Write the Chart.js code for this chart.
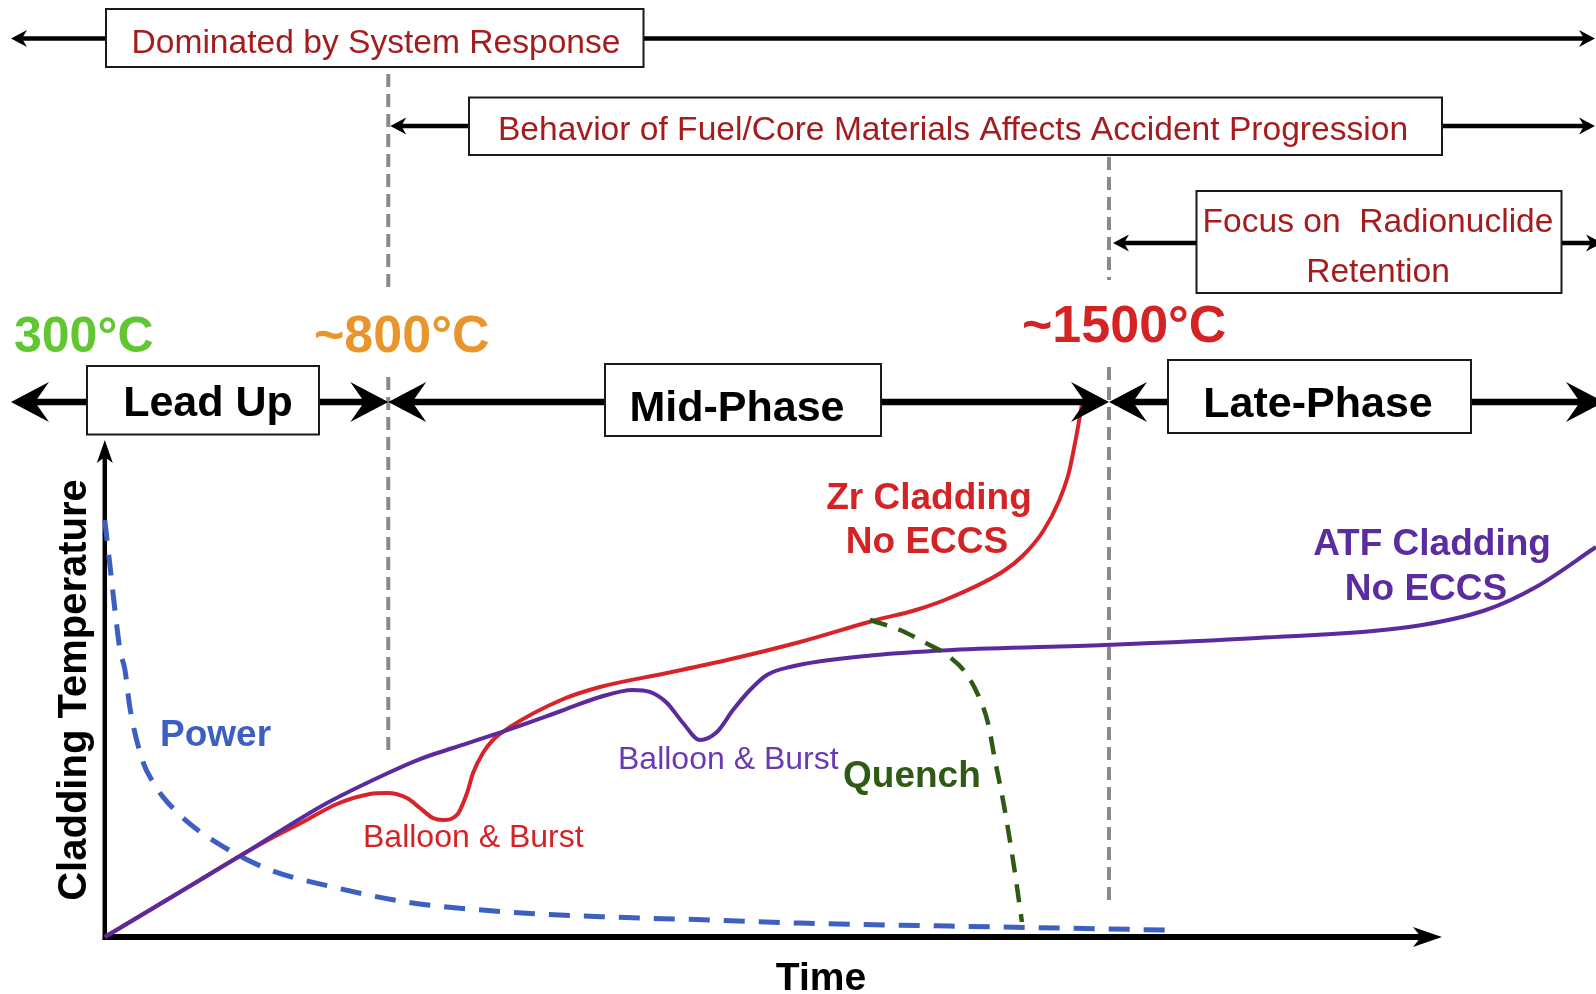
<!DOCTYPE html>
<html><head><meta charset="utf-8">
<script src="https://cdn.jsdelivr.net/npm/chart.js@4.4.1/dist/chart.umd.min.js"></script>
<style>html,body{margin:0;padding:0;background:#fff;overflow:hidden}canvas{display:block}</style>
</head><body>
<canvas id="c" width="1596" height="994"></canvas>
<script>
// ---- data (time units: 0..100 along the time axis; temperature units: 0..100 along the vertical axis)
const zrTime  = [0, 5.25, 10.48, 12.35, 14.82, 17.36, 19.83, 21.10, 22.60, 23.57, 24.54, 25.29, 26.34, 27.09, 27.54, 28.28, 29.03, 30.30, 34.12, 37.03, 42.04, 46.53, 51.99, 57.67, 60.66, 63.36, 67.17, 68.67, 70.16, 71.36, 72.11, 72.63, 73.08];
const zrTemp  = [0, 8.45, 16.90, 19.72, 23.14, 26.76, 28.77, 28.97, 27.97, 25.96, 23.94, 23.54, 24.55, 28.97, 33.00, 37.02, 39.64, 42.25, 47.69, 50.30, 53.12, 55.73, 59.36, 63.78, 65.79, 68.41, 73.54, 76.76, 81.59, 87.73, 93.56, 100.40, 107.24];
const atfTime = [0, 5.25, 10.48, 13.85, 16.62, 21.10, 23.57, 26.04, 29.48, 34.12, 37.03, 39.50, 40.77, 42.04, 43.24, 44.51, 45.78, 46.98, 48.25, 49.52, 51.24, 57.67, 63.36, 74.80, 86.16, 97.53, 103.29, 107.03, 111.52];
const atfTemp = [0, 8.45, 16.90, 22.54, 26.96, 32.90, 35.81, 38.03, 41.05, 45.47, 48.29, 49.70, 49.30, 47.08, 43.06, 39.64, 41.25, 45.67, 49.70, 52.72, 54.33, 56.74, 57.75, 58.75, 60.16, 62.37, 65.79, 70.42, 78.47];
const powerTime  = [0, 0.4, 0.8, 1.14, 1.51, 1.88, 2.86, 3.60, 4.35, 6.30, 8.91, 12.35, 16.99, 22.67, 30.30, 37.93, 45.56, 51.99, 63.21, 79.28];
const powerLevel = [83.9, 74.4, 64.8, 57.7, 53.7, 46.1, 35.2, 31.2, 28.2, 22.9, 18.1, 13.5, 10.1, 7.0, 5.0, 4.0, 3.4, 2.8, 2.2, 1.4];
const quenchTime = [57.22, 59.47, 61.11, 62.98, 64.33, 65.31, 66.05, 66.57, 67.17, 67.92, 68.59];
const quenchTemp = [63.78, 61.77, 59.56, 56.74, 53.32, 48.69, 43.06, 35.61, 27.57, 15.49, 3.02];
const phaseBoundaries = [21.2, 75.1];
const phaseNames = ['Lead Up', 'Mid-Phase', 'Late-Phase'];
const tempMarks = ['300°C', '~800°C', '~1500°C'];
const focusLabels = ['Dominated by System Response', 'Behavior of Fuel/Core Materials Affects Accident Progression', 'Focus on  Radionuclide', 'Retention'];
const seriesNames = ['Zr Cladding', 'No ECCS', 'ATF Cladding', 'Power', 'Balloon & Burst', 'Quench'];
const axisTitles = ['Time', 'Cladding Temperature'];

// ---- styles / layout
const FONT = '"Liberation Sans", Arial, Helvetica, sans-serif';
const C = {
  red: '#d8232a', purple: '#5a2a9e', blue: '#3c5fc1', green: '#2e5a14', gray: '#8a8a8a',
  boxText: '#a31c1e', t300: '#62c532', t800: '#e8952c', t1500: '#d42325',
  redText: '#d42325', purpleText: '#5b2c9f', purpleLight: '#6b3ab2'
};
const pts = (xs, ys) => xs.map((x, i) => ({x: x, y: ys[i]}));

function head(ctx, tx, ty, dir, len, half, notch) {
  ctx.beginPath();
  if (dir === 'r' || dir === 'l') {
    const s = dir === 'r' ? 1 : -1;
    ctx.moveTo(tx, ty);
    ctx.lineTo(tx - s * len, ty - half);
    ctx.lineTo(tx - s * (len - notch), ty);
    ctx.lineTo(tx - s * len, ty + half);
  } else {
    ctx.moveTo(tx, ty);
    ctx.lineTo(tx - half, ty + len);
    ctx.lineTo(tx, ty + len - notch);
    ctx.lineTo(tx + half, ty + len);
  }
  ctx.closePath();
  ctx.fill();
}
function hline(ctx, x1, x2, y, w) {
  ctx.lineWidth = w; ctx.beginPath(); ctx.moveTo(x1, y); ctx.lineTo(x2, y); ctx.stroke();
}
function box(ctx, x, y, w, h) {
  ctx.fillStyle = '#fff'; ctx.fillRect(x, y, w, h);
  ctx.lineWidth = 2; ctx.strokeStyle = '#1a1a1a'; ctx.strokeRect(x, y, w, h);
}
function text(ctx, s, x, y, font, color, align) {
  ctx.font = font; ctx.fillStyle = color; ctx.textAlign = align || 'left'; ctx.textBaseline = 'alphabetic';
  ctx.fillText(s, x, y);
}

const deco = {
  id: 'deco',
  beforeDatasetsDraw(chart) {
    const ctx = chart.ctx, xs = chart.scales.x, ys = chart.scales.y;
    const ox = xs.getPixelForValue(0), oy = ys.getPixelForValue(0);
    const xEnd = xs.getPixelForValue(100), yEnd = ys.getPixelForValue(100);
    ctx.save();
    ctx.strokeStyle = '#000'; ctx.fillStyle = '#000';
    ctx.lineWidth = 4.5; ctx.beginPath(); ctx.moveTo(ox, oy + 3); ctx.lineTo(ox, yEnd + 15); ctx.stroke();
    head(ctx, ox, yEnd, 'u', 23, 8, 6);
    hline(ctx, ox - 2, xEnd - 20, oy, 6);
    head(ctx, xEnd, oy, 'r', 29, 10, 8);
    ctx.restore();
  },
  afterDatasetsDraw(chart) {
    const ctx = chart.ctx, xs = chart.scales.x;
    const bA = xs.getPixelForValue(phaseBoundaries[0]);
    const bB = xs.getPixelForValue(phaseBoundaries[1]);
    ctx.save();
    ctx.strokeStyle = C.gray; ctx.lineWidth = 4; ctx.setLineDash([13, 7]);
    [[bA, 74, 287], [bA, 377, 750], [bB, 157, 280], [bB, 367, 906]].forEach(s => {
      ctx.beginPath(); ctx.moveTo(s[0], s[1]); ctx.lineTo(s[0], s[2]); ctx.stroke();
    });
    ctx.setLineDash([]);
    ctx.strokeStyle = '#000'; ctx.fillStyle = '#000';
    hline(ctx, 20, 106, 38.5, 4.5); hline(ctx, 643, 1585, 38.5, 4.5);
    head(ctx, 11, 38.5, 'l', 16, 8.5, 5); head(ctx, 1595, 38.5, 'r', 16, 8.5, 5);
    hline(ctx, bA + 10, 469, 126, 4.5); hline(ctx, 1442, 1585, 126, 4.5);
    head(ctx, bA + 2, 126, 'l', 16, 8.5, 5); head(ctx, 1595, 126, 'r', 16, 8.5, 5);
    hline(ctx, bB + 12, 1197, 243, 4.5); hline(ctx, 1561, 1596, 243, 4.5);
    head(ctx, bB + 4, 243, 'l', 16, 8.5, 5); head(ctx, 1602, 243, 'r', 16, 8.5, 5);
    const py = 402;
    hline(ctx, 25, 87, py, 6.5); head(ctx, 11, py, 'l', 38, 20, 14);
    hline(ctx, 319, bA - 20, py, 6.5); head(ctx, bA, py, 'r', 38, 20, 14);
    hline(ctx, bA + 20, 605, py, 6.5); head(ctx, bA, py, 'l', 38, 20, 14);
    hline(ctx, 881, bB - 20, py, 6.5); head(ctx, bB, py, 'r', 38, 20, 14);
    hline(ctx, bB + 20, 1168, py, 6.5); head(ctx, bB, py, 'l', 38, 20, 14);
    hline(ctx, 1471, 1590, py, 6.5); head(ctx, 1604, py, 'r', 38, 20, 14);
    box(ctx, 106, 9, 537.5, 58);
    box(ctx, 469, 97.5, 973, 57.5);
    box(ctx, 1196.5, 191, 365, 102);
    box(ctx, 87, 366, 232, 68.5);
    box(ctx, 605, 364, 276, 72);
    box(ctx, 1168, 360, 303, 73);
    const f33 = '33.6px ' + FONT;
    text(ctx, focusLabels[0], 376, 52.5, f33, C.boxText, 'center');
    text(ctx, focusLabels[1], 953, 140, f33, C.boxText, 'center');
    text(ctx, focusLabels[2], 1378, 232, f33, C.boxText, 'center');
    text(ctx, focusLabels[3], 1378, 282, f33, C.boxText, 'center');
    const fb = 'bold 43px ' + FONT;
    text(ctx, phaseNames[0], 208, 416, fb, '#000', 'center');
    text(ctx, phaseNames[1], 737, 421, fb, '#000', 'center');
    text(ctx, phaseNames[2], 1318, 417, fb, '#000', 'center');
    text(ctx, tempMarks[0], 14, 352, 'bold 50px ' + FONT, C.t300);
    text(ctx, tempMarks[1], 314, 352, 'bold 52px ' + FONT, C.t800);
    text(ctx, tempMarks[2], 1022, 342, 'bold 52px ' + FONT, C.t1500);
    const f37 = 'bold 37px ' + FONT;
    text(ctx, seriesNames[0], 929, 509, f37, C.redText, 'center');
    text(ctx, seriesNames[1], 927, 553, f37, C.redText, 'center');
    text(ctx, seriesNames[2], 1432, 555, f37, C.purpleText, 'center');
    text(ctx, seriesNames[1], 1426, 600, f37, C.purpleText, 'center');
    text(ctx, seriesNames[3], 160, 746, f37, C.blue);
    text(ctx, seriesNames[4], 363, 847, '32px ' + FONT, C.redText);
    text(ctx, seriesNames[4], 618, 769, '32px ' + FONT, C.purpleLight);
    text(ctx, seriesNames[5], 843, 787, f37, C.green);
    text(ctx, axisTitles[0], 821, 990, 'bold 39px ' + FONT, '#000', 'center');
    ctx.save();
    ctx.translate(86, 690); ctx.rotate(-Math.PI / 2);
    text(ctx, axisTitles[1], 0, 0, 'bold 40px ' + FONT, '#000', 'center');
    ctx.restore();
    ctx.restore();
  }
};

new Chart(document.getElementById('c'), {
  type: 'scatter',
  data: {
    datasets: [
      {label: 'ATF Cladding', data: pts(atfTime, atfTemp), showLine: true, borderColor: C.purple, borderWidth: 4, pointRadius: 0, cubicInterpolationMode: 'monotone', order: 1},
      {label: 'Zr Cladding', data: pts(zrTime, zrTemp), showLine: true, borderColor: C.red, borderWidth: 4, pointRadius: 0, cubicInterpolationMode: 'monotone', order: 2},
      {label: 'Quench', data: pts(quenchTime, quenchTemp), showLine: true, borderColor: C.green, borderWidth: 4.5, borderDash: [18, 12], pointRadius: 0, cubicInterpolationMode: 'monotone', order: 0},
      {label: 'Power', data: pts(powerTime, powerLevel), showLine: true, borderColor: C.blue, borderWidth: 5, borderDash: [21, 14], pointRadius: 0, cubicInterpolationMode: 'monotone', order: 3}
    ]
  },
  options: {
    responsive: false, animation: false, devicePixelRatio: 1,
    layout: {padding: 0},
    plugins: {legend: {display: false}, tooltip: {enabled: false}},
    scales: {
      x: {type: 'linear', display: false, min: -7.837, max: 111.52},
      y: {type: 'linear', display: false, min: -11.47, max: 188.53}
    }
  },
  plugins: [deco]
});
</script>
</body></html>
